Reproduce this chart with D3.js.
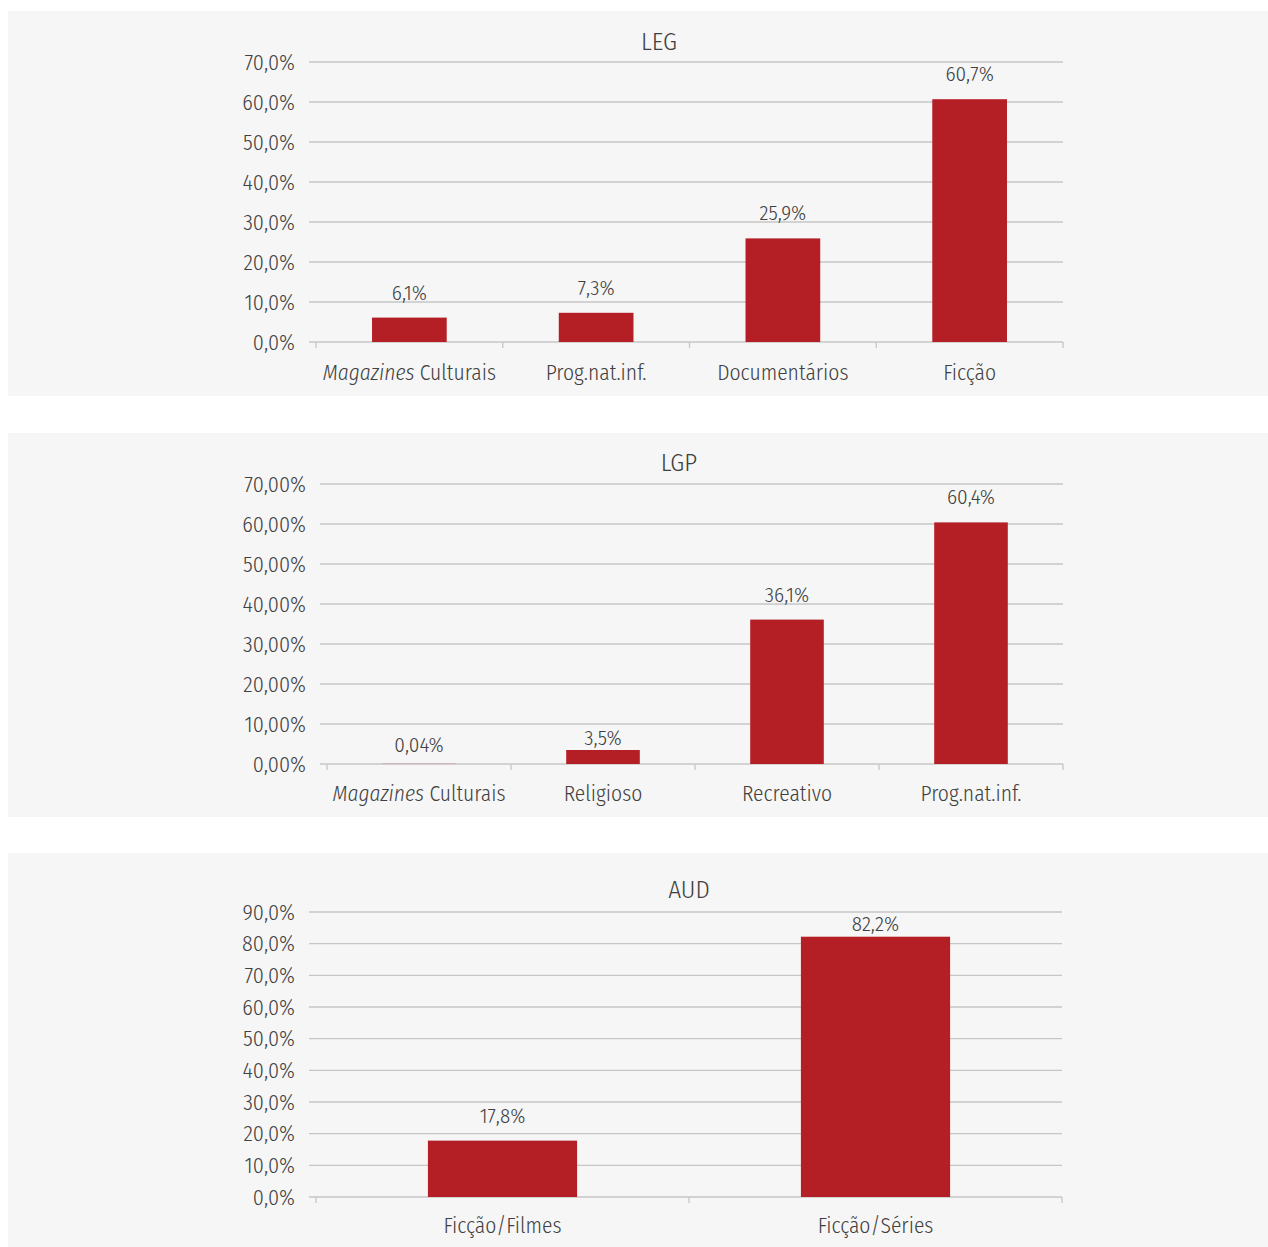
<!DOCTYPE html>
<html><head><meta charset="utf-8">
<script src="https://cdn.jsdelivr.net/npm/d3@7"></script>
<style>
body{margin:0;background:#fff;}
svg text{font-family:"Fira Sans Condensed","Liberation Sans Narrow","DejaVu Sans Condensed","Roboto",sans-serif;font-weight:300;fill:#404040;}
</style></head><body>
<svg id="c" width="1268" height="1247"></svg>
<script>
const legCategories = ["Magazines|Culturais", "Prog.nat.inf.", "Documentários", "Ficção"];
const legValues = [6.1, 7.3, 25.9, 60.7];
const legLabels = ["6,1%", "7,3%", "25,9%", "60,7%"];
const legTicks = [0,10,20,30,40,50,60,70];

const lgpCategories = ["Magazines|Culturais", "Religioso", "Recreativo", "Prog.nat.inf."];
const lgpValues = [0.04, 3.5, 36.1, 60.4];
const lgpLabels = ["0,04%", "3,5%", "36,1%", "60,4%"];
const lgpTicks = [0,10,20,30,40,50,60,70];

const audCategories = ["Ficção/Filmes", "Ficção/Séries"];
const audValues = [17.8, 82.2];
const audLabels = ["17,8%", "82,2%"];
const audTicks = [0,10,20,30,40,50,60,70,80,90];

const svg = d3.select("#c");
const BAR = "#b41f26", GRID = "#c6c6c6";

const panels = [
  {title:"LEG", cats:legCategories, vals:legValues, labels:legLabels, ticks:legTicks, dec:1, labelDy:[-18,-18,-18,-18],
   box:[8,11,1260,385], x0:316, x1:1063, y0:342, y1:62, titleX:659, titleY:50, catY:380, tickRight:295},
  {title:"LGP", cats:lgpCategories, vals:lgpValues, labels:lgpLabels, ticks:lgpTicks, dec:2, labelDy:[-12,-5,-18,-18],
   box:[8,433,1260,384], x0:327, x1:1063, y0:764, y1:484, titleX:679, titleY:471, catY:801, tickRight:306},
  {title:"AUD", cats:audCategories, vals:audValues, labels:audLabels, ticks:audTicks, dec:1, labelDy:[-18,-6],
   box:[8,853,1260,394], x0:316, x1:1062, y0:1197, y1:912, titleX:689, titleY:898, catY:1233, tickRight:295}
];

panels.forEach(p => {
  const g = svg.append("g");
  g.append("rect").attr("x",p.box[0]).attr("y",p.box[1]).attr("width",p.box[2]).attr("height",p.box[3]).attr("fill","#f6f6f6");
  const maxT = d3.max(p.ticks);
  const y = d3.scaleLinear().domain([0,maxT]).range([p.y0,p.y1]);
  const x = d3.scaleBand().domain(p.cats).range([p.x0,p.x1]).paddingInner(0.6).paddingOuter(0.3);
  const xb = d3.scaleBand().domain(p.cats).range([p.x0,p.x1]);
  g.selectAll(".grid").data(p.ticks).enter().append("line")
    .attr("x1",p.x0-7).attr("x2",p.x1).attr("y1",d=>y(d)).attr("y2",d=>y(d))
    .attr("stroke",GRID).attr("stroke-width",1.3);
  g.selectAll(".yl").data(p.ticks).enter().append("text")
    .attr("x",p.tickRight).attr("y",d=>y(d)).attr("dy","0.35em").attr("text-anchor","end")
    .attr("font-size",22).text(d=>d.toFixed(p.dec).replace(".",",")+"%");
  const edges = p.cats.map(c=>xb(c)).concat([p.x1]);
  g.selectAll(".xt").data(edges).enter().append("line")
    .attr("x1",d=>d).attr("x2",d=>d).attr("y1",p.y0).attr("y2",p.y0+6)
    .attr("stroke",GRID).attr("stroke-width",1.3);
  g.selectAll(".bar").data(p.vals).enter().append("rect")
    .attr("x",(d,i)=>x(p.cats[i])).attr("width",x.bandwidth())
    .attr("y",d=>y(d)).attr("height",d=>p.y0-y(d)).attr("fill",BAR);
  g.selectAll(".vl").data(p.vals).enter().append("text")
    .attr("x",(d,i)=>x(p.cats[i])+x.bandwidth()/2).attr("y",(d,i)=>y(d)+p.labelDy[i])
    .attr("text-anchor","middle").attr("font-size",21).text((d,i)=>p.labels[i]);
  p.cats.forEach(c => {
    const t = g.append("text").attr("x",xb(c)+xb.bandwidth()/2).attr("y",p.catY)
      .attr("text-anchor","middle").attr("font-size",21.5);
    if (c.includes("|")) {
      const [a,b] = c.split("|");
      t.append("tspan").attr("font-style","italic").text(a);
      t.append("tspan").text(" "+b);
    } else t.text(c);
  });
  g.append("text").attr("x",p.titleX).attr("y",p.titleY).attr("text-anchor","middle")
    .attr("font-size",25).text(p.title);
});
</script></body></html>
